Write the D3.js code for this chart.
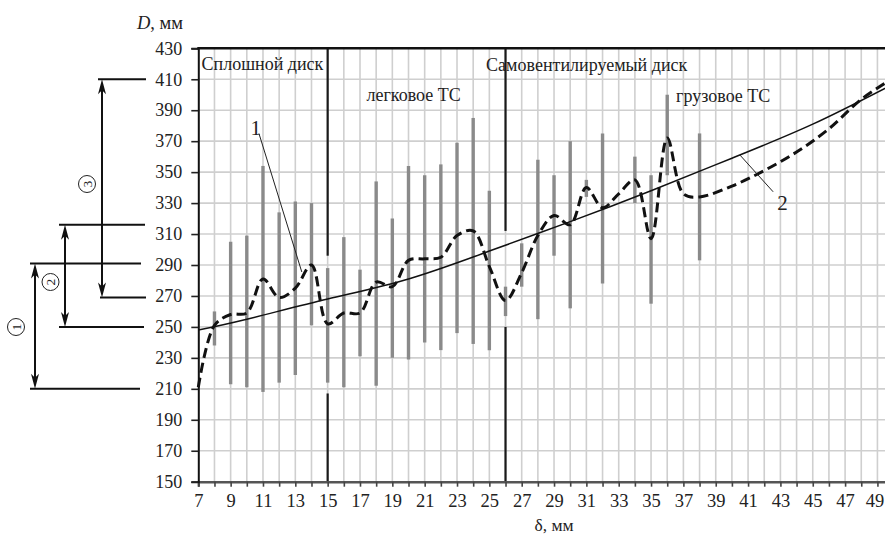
<!DOCTYPE html>
<html>
<head>
<meta charset="utf-8">
<script src="https://cdn.jsdelivr.net/npm/d3@7"></script>
<style>
  body { margin: 0; background: #fff; }
  svg { display: block; }
  text { font-family: "Liberation Serif", "DejaVu Serif", serif; fill: #222; }
</style>
</head>
<body>
<svg id="chart" width="885" height="534"></svg>
<script>
// tick labels
var xTickLabels = [7, 9, 11, 13, 15, 17, 19, 21, 23, 25, 27, 29, 31, 33, 35, 37, 39, 41, 43, 45, 47, 49];
var yTickLabels = [150, 170, 190, 210, 230, 250, 270, 290, 310, 330, 350, 370, 390, 410, 430];

// spread of D for each delta (grey bars)
var rangeX   = [8,   9,   10,  11,  12,  13,  14,  15,  16,  17,  18,  19,  20,  21,  22,  23,  24,  25,  26,  27,  28,  29,  30,  31,  32,  34,  35,  36,  38];
var rangeMin = [238, 213, 211, 208, 214, 219, 251, 214, 211, 231, 212, 230, 229, 240, 235, 246, 239, 235, 257, 276, 255, 296, 262, 334, 278, 330, 265, 348, 293];
var rangeMax = [260, 305, 309, 354, 324, 331, 330, 288, 308, 287, 344, 320, 354, 348, 355, 369, 385, 338, 276, 304, 358, 348, 370, 345, 375, 360, 348, 400, 375];

// curve 1 (dashed) - averaged D
var meanX = [7,   8,   9,   10,  11,  12,  13,  14,  15,  16,  17,  18,  19,  20,  21,  22,  23,  24,  25,  26,  27,  28,  29,  30,  31,  32,  33,  34,  35,  36,  37,  38,  40,  42,  44,  46,  48,  50];
var meanD = [211, 251, 258, 259, 281, 269, 275, 290, 252, 259, 259, 279, 276, 293, 294, 295, 309, 312, 289, 267, 285, 309, 322, 316, 340, 327, 336, 345, 307, 372, 336, 334, 341, 351, 363, 378, 397, 411];

// curve 2 (solid) - trend
var trendX = [7,   10,  15,  20,  25,  30,  35,  40,  45,  50];
var trendD = [248, 255, 268, 281, 299, 318, 338, 359, 381, 407];

// disc type borders (with the breaks where the grey bar sits)
var borderX  = [15, 26];
var borderLo = [207, 250];
var borderHi = [296, 312];

var zoneLabels = ["Сплошной диск", "легковое ТС", "Самовентилируемый диск", "грузовое ТС"];

// dimension brackets on the left: 1, 2, 3
var dimLo = [210, 250, 269];
var dimHi = [291, 316, 410];

var svg = d3.select("#chart");

var x = d3.scaleLinear().domain([7, 50]).range([198.3, 893.6]);
var y = d3.scaleLinear().domain([150, 430]).range([481.7, 48.3]);

//-------------------
// grid
//-------------------
var grid = svg.append("g").attr("class", "grid");
grid.selectAll("line.v")
  .data(d3.range(8, 51))
  .enter().append("line")
  .attr("x1", function(d) { return x(d); })
  .attr("x2", function(d) { return x(d); })
  .attr("y1", y(430))
  .attr("y2", y(150))
  .attr("stroke", "#cfcfcf")
  .attr("stroke-width", 1.6);
grid.selectAll("line.h")
  .data(yTickLabels.slice(1, -1))
  .enter().append("line")
  .attr("x1", x(7))
  .attr("x2", 885)
  .attr("y1", function(d) { return y(d); })
  .attr("y2", function(d) { return y(d); })
  .attr("stroke", "#cfcfcf")
  .attr("stroke-width", 1.6);

// borders between disc types
for (var i = 0; i < borderX.length; i++) {
  svg.append("line")
    .attr("x1", x(borderX[i])).attr("x2", x(borderX[i]))
    .attr("y1", y(430)).attr("y2", y(borderHi[i]))
    .attr("stroke", "#1a1a1a").attr("stroke-width", 2.2);
  svg.append("line")
    .attr("x1", x(borderX[i])).attr("x2", x(borderX[i]))
    .attr("y1", y(borderLo[i])).attr("y2", y(150))
    .attr("stroke", "#1a1a1a").attr("stroke-width", 2.2);
}

// grey bars
svg.append("g")
  .selectAll("line")
  .data(rangeX)
  .enter().append("line")
  .attr("x1", function(d) { return x(d); })
  .attr("x2", function(d) { return x(d); })
  .attr("y1", function(d, i) { return y(rangeMin[i]); })
  .attr("y2", function(d, i) { return y(rangeMax[i]); })
  .attr("stroke", "#8a8a8a")
  .attr("stroke-width", 3.4);

//-------------------
// curves
//-------------------
var trendLine = d3.line()
  .x(function(d) { return x(d); })
  .y(function(d, i) { return y(trendD[i]); })
  .curve(d3.curveNatural);
svg.append("path")
  .attr("d", trendLine(trendX))
  .attr("fill", "none")
  .attr("stroke", "#111")
  .attr("stroke-width", 1.5);

var meanLine = d3.line()
  .x(function(d) { return x(d); })
  .y(function(d, i) { return y(meanD[i]); })
  .curve(d3.curveCatmullRom.alpha(0.5));
svg.append("path")
  .attr("d", meanLine(meanX))
  .attr("fill", "none")
  .attr("stroke", "#111")
  .attr("stroke-width", 3)
  .attr("stroke-dasharray", "10,5");

//-------------------
// axes
//-------------------
var xAxis = d3.axisBottom(x)
  .tickValues(d3.range(7, 51))
  .tickSize(5)
  .tickFormat(function(d) { return xTickLabels.indexOf(d) >= 0 ? d : ""; });
var gx = svg.append("g")
  .attr("transform", "translate(0," + y(150) + ")")
  .call(xAxis);
gx.select(".domain").attr("stroke", "#555").attr("stroke-width", 2.4);
gx.selectAll(".tick line").attr("stroke", "#444").attr("stroke-width", 1.6);
gx.selectAll(".tick text")
  .attr("y", 12)
  .attr("dx", function(d) { return d == 49 ? -3 : 0; })
  .style("font-size", "18.5px")
  .style("font-family", "Liberation Serif, serif")
  .attr("fill", "#222");

var yAxis = d3.axisLeft(y)
  .tickValues(yTickLabels)
  .tickSize(7)
  .tickPadding(9);
var gy = svg.append("g")
  .attr("transform", "translate(" + x(7) + ",0)")
  .call(yAxis);
gy.select(".domain").attr("stroke", "#111").attr("stroke-width", 2);
gy.selectAll(".tick line").attr("stroke", "#222").attr("stroke-width", 1.6);
gy.selectAll(".tick text")
  .style("font-size", "18px")
  .style("font-family", "Liberation Serif, serif")
  .attr("fill", "#222");

// top border
svg.append("line")
  .attr("x1", x(7) - 1).attr("x2", 885)
  .attr("y1", y(430)).attr("y2", y(430))
  .attr("stroke", "#111").attr("stroke-width", 2.6);

// axis titles
var dTitle = svg.append("text")
  .attr("x", 183).attr("y", 29)
  .attr("text-anchor", "end")
  .style("font-size", "18.5px");
dTitle.append("tspan").style("font-style", "italic").text("D");
dTitle.append("tspan").text(", мм");

svg.append("text")
  .attr("x", 554).attr("y", 531)
  .attr("text-anchor", "middle")
  .style("font-size", "17.5px")
  .text("δ, мм");

//-------------------
// zone labels
//-------------------
var zonePos = [[7.2, 416], [17.4, 396], [24.8, 415.3], [36.55, 395.5]];
svg.append("g")
  .selectAll("text")
  .data(zoneLabels)
  .enter().append("text")
  .attr("x", function(d, i) { return x(zonePos[i][0]); })
  .attr("y", function(d, i) { return y(zonePos[i][1]); })
  .style("font-size", "18px")
  .text(function(d) { return d; });

// curve numbers with leaders
svg.append("line")
  .attr("x1", x(10.75)).attr("y1", y(375))
  .attr("x2", x(13.4)).attr("y2", y(285.5))
  .attr("stroke", "#222").attr("stroke-width", 1);
svg.append("text")
  .attr("x", x(10.55)).attr("y", y(374))
  .attr("text-anchor", "middle")
  .style("font-size", "21px")
  .text("1");

svg.append("line")
  .attr("x1", x(40.5)).attr("y1", y(361))
  .attr("x2", x(42.55)).attr("y2", y(337.3))
  .attr("stroke", "#222").attr("stroke-width", 1);
svg.append("text")
  .attr("x", x(43.13)).attr("y", y(325.5))
  .attr("text-anchor", "middle")
  .style("font-size", "21px")
  .text("2");

//-------------------
// dimension brackets
//-------------------
var dimX = [35, 65, 102];
var dimLeft = [[30, 30], [59, 59], [100, 98]];
var dimRight = [[140, 141], [144, 145], [146, 146]];
var dimLabel = [[16, 327], [50.5, 282], [87, 184]];

function arrowHead(px, py, dir) {
  // dir = -1 tip pointing up, 1 pointing down
  var len = 15, half = 4, notch = 11;
  return "M" + px + "," + py +
    "L" + (px - half) + "," + (py - dir * len) +
    "L" + px + "," + (py - dir * notch) +
    "L" + (px + half) + "," + (py - dir * len) + "Z";
}

for (var k = 0; k < dimLo.length; k++) {
  var yLo = y(dimLo[k]), yHi = y(dimHi[k]);
  svg.append("line")
    .attr("x1", dimLeft[k][0]).attr("x2", dimRight[k][0])
    .attr("y1", yLo).attr("y2", yLo)
    .attr("stroke", "#111").attr("stroke-width", 2);
  svg.append("line")
    .attr("x1", dimLeft[k][1]).attr("x2", dimRight[k][1])
    .attr("y1", yHi).attr("y2", yHi)
    .attr("stroke", "#111").attr("stroke-width", 2);
  svg.append("line")
    .attr("x1", dimX[k]).attr("x2", dimX[k])
    .attr("y1", yHi + 6).attr("y2", yLo - 6)
    .attr("stroke", "#111").attr("stroke-width", 2);
  svg.append("path").attr("d", arrowHead(dimX[k], yHi, -1)).attr("fill", "#111");
  svg.append("path").attr("d", arrowHead(dimX[k], yLo, 1)).attr("fill", "#111");

  var lab = svg.append("g")
    .attr("transform", "translate(" + dimLabel[k][0] + "," + dimLabel[k][1] + ") rotate(-90)");
  lab.append("circle")
    .attr("r", 8.5)
    .attr("fill", "#fff")
    .attr("stroke", "#222")
    .attr("stroke-width", 1);
  lab.append("text")
    .attr("text-anchor", "middle")
    .attr("dy", "0.35em")
    .style("font-size", "13.5px")
    .text(k + 1);
}
</script>
</body>
</html>
